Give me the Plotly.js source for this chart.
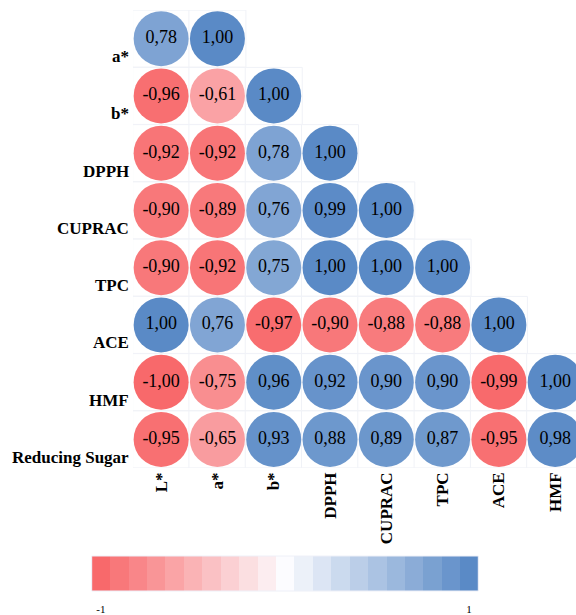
<!DOCTYPE html>
<html>
<head>
<meta charset="utf-8">
<script src="https://cdn.plot.ly/plotly-3.0.1.min.js"></script>
<style>
  html, body { margin: 0; padding: 0; background: #fff; }
  #chart { width: 576px; height: 615px; }
</style>
</head>
<body>
<div id="chart"></div>
<script>
// Variables on each axis of the lower-triangular correlation matrix
const rowNames = ['a*', 'b*', 'DPPH', 'CUPRAC', 'TPC', 'ACE', 'HMF', 'Reducing Sugar'];
const colNames = ['L*', 'a*', 'b*', 'DPPH', 'CUPRAC', 'TPC', 'ACE', 'HMF'];

// Correlation coefficients, one list per row (left to right)
const rA    = [0.78, 1.00];
const rB    = [-0.96, -0.61, 1.00];
const rDPPH = [-0.92, -0.92, 0.78, 1.00];
const rCUP  = [-0.90, -0.89, 0.76, 0.99, 1.00];
const rTPC  = [-0.90, -0.92, 0.75, 1.00, 1.00, 1.00];
const rACE  = [1.00, 0.76, -0.97, -0.90, -0.88, -0.88, 1.00];
const rHMF  = [-1.00, -0.75, 0.96, 0.92, 0.90, 0.90, -0.99, 1.00];
const rRS   = [-0.95, -0.65, 0.93, 0.88, 0.89, 0.87, -0.95, 0.98];
const rowValues = [rA, rB, rDPPH, rCUP, rTPC, rACE, rHMF, rRS];

// Steps of the colour key and its end labels
const legendSteps = [-1, -0.9, -0.8, -0.7, -0.6, -0.5, -0.4, -0.3, -0.2, -0.1, 0,
                     0.1, 0.2, 0.3, 0.4, 0.5, 0.6, 0.7, 0.8, 0.9, 1];
const legendTickVals = [-1, 1];
const legendTickText = ['-1', '1'];

// Three-colour diverging scale: red (-1) -> near-white (0) -> blue (+1)
const divergingScale = [[0, 'rgb(248,105,107)'], [0.5, 'rgb(252,252,255)'], [1, 'rgb(90,138,198)']];

// Flatten the triangle into point lists
const xs = [], ys = [], vals = [], labels = [];
rowValues.forEach((row, i) => {
  row.forEach((v, j) => {
    xs.push(colNames[j]);
    ys.push(rowNames[i]);
    vals.push(v);
    labels.push(v.toFixed(2).replace('.', ','));
  });
});

const serif = '"Liberation Serif", "Times New Roman", serif';
const W = 576, H = 615;

// Faint cell outlines
const cells = {
  type: 'scatter', mode: 'markers', x: xs, y: ys, xaxis: 'x', yaxis: 'y',
  hoverinfo: 'skip', showlegend: false,
  marker: { symbol: 'square', size: 57, color: '#ffffff',
            line: { color: '#f0f2f7', width: 1 } }
};

// Coloured circles with their coefficient
const circles = {
  type: 'scatter', mode: 'markers+text', x: xs, y: ys, xaxis: 'x', yaxis: 'y',
  text: labels, textposition: 'middle center',
  textfont: { family: serif, size: 18, color: '#000' },
  marker: { symbol: 'circle', size: 55, color: vals, colorscale: divergingScale,
            cmin: -1, cmax: 1, showscale: false, line: { width: 0 } },
  hoverinfo: 'x+y+text', showlegend: false
};

// Colour key: one block per step
const key = {
  type: 'heatmap', x: legendSteps, y: [0], z: [legendSteps],
  xaxis: 'x2', yaxis: 'y2', colorscale: divergingScale, zmin: -1, zmax: 1,
  showscale: false, hoverinfo: 'skip', xgap: 0, ygap: 0
};

// Row names sit at the lower part of each row
const plotLeft = 133;
const rowLabels = rowNames.map(name => ({
  xref: 'paper', x: plotLeft / W, xanchor: 'right', xshift: -2,
  yref: 'y', y: name, yanchor: 'middle', yshift: -18,
  text: name, showarrow: false,
  font: { family: serif, size: 17, color: '#000', weight: 'bold' }
}));

const layout = {
  width: W, height: H,
  margin: { l: 0, r: 0, t: 0, b: 0 },
  paper_bgcolor: '#fff', plot_bgcolor: '#fff',
  xaxis: {
    domain: [plotLeft / W, 1],
    type: 'category', categoryorder: 'array', categoryarray: colNames,
    range: [-0.5, 7.37], showgrid: false, zeroline: false, showline: false,
    ticks: '', tickangle: -90, automargin: false, anchor: 'y',
    tickfont: { family: serif, size: 17, color: '#000', weight: 'bold' }
  },
  yaxis: {
    domain: [(H - 468) / H, (H - 10) / H],
    type: 'category', categoryorder: 'array', categoryarray: rowNames,
    range: [7.5, -0.5], showgrid: false, zeroline: false, showline: false,
    showticklabels: false, ticks: '', automargin: false, anchor: 'x'
  },
  xaxis2: {
    domain: [91.7 / W, 478.3 / W], anchor: 'y2',
    range: [-1.05, 1.05], showgrid: false, zeroline: false, showline: false,
    tickvals: legendTickVals, ticktext: legendTickText,
    ticks: 'outside', ticklen: 8, tickcolor: 'rgba(0,0,0,0)',
    tickfont: { family: serif, size: 11, color: '#000' }, automargin: false
  },
  yaxis2: {
    domain: [(H - 591) / H, (H - 556) / H], anchor: 'x2',
    range: [-0.5, 0.5], showgrid: false, zeroline: false, showline: false,
    showticklabels: false, ticks: '', automargin: false
  },
  shapes: [{
    type: 'rect', xref: 'x2 domain', yref: 'y2 domain', x0: 0, x1: 1, y0: 0, y1: 1,
    line: { color: '#eef0f8', width: 1 }, fillcolor: 'rgba(0,0,0,0)'
  }],
  annotations: rowLabels,
  showlegend: false
};

Plotly.newPlot('chart', [cells, circles, key], layout, { displayModeBar: false, staticPlot: true });
</script>
</body>
</html>
